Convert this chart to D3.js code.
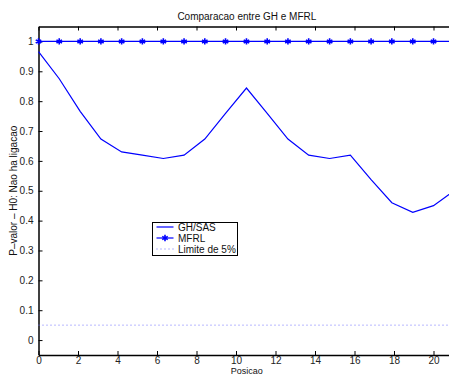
<!DOCTYPE html>
<html>
<head>
<meta charset="utf-8">
<script src="https://cdn.jsdelivr.net/npm/d3@7"></script>
<style>
html,body{margin:0;padding:0;background:#fff;}
svg{display:block;font-family:"Liberation Sans",Arial,Helvetica,sans-serif;}
</style>
</head>
<body>
<svg id="chart" width="449" height="376"></svg>
<script>
const positions = [0, 1.05, 2.11, 3.16, 4.21, 5.26, 6.32, 7.37, 8.42, 9.47, 10.53, 11.58, 12.63, 13.68, 14.74, 15.79, 16.84, 17.89, 18.95, 20, 21.05];
const ghSas = [0.966, 0.875, 0.766, 0.673, 0.630, 0.619, 0.608, 0.619, 0.673, 0.759, 0.844, 0.759, 0.673, 0.619, 0.608, 0.619, 0.537, 0.460, 0.428, 0.450, 0.500];
const mfrl = [1, 1, 1, 1, 1, 1, 1, 1, 1, 1, 1, 1, 1, 1, 1, 1, 1, 1, 1, 1, 1];
const limitValue = 0.05;
const xTicks = [0, 2, 4, 6, 8, 10, 12, 14, 16, 18, 20];
const yTicks = [0, 0.1, 0.2, 0.3, 0.4, 0.5, 0.6, 0.7, 0.8, 0.9, 1];
const seriesNames = ["GH/SAS", "MFRL", "Limite de 5%"];
const titleText = "Comparacao entre GH e MFRL";
const xLabelText = "Posicao";
const yLabelText = "P\u2013valor \u2013 H0: Nao ha ligacao";

(function () {
const svg = d3.select("#chart");
const mLeft = 38.5, mTop = 26.5, mBottom = 355;
const pxPerUnit = 19.75;
const xMax = 21.1;
const x = d3.scaleLinear().domain([0, xMax]).range([mLeft, mLeft + xMax * pxPerUnit]);
const y = d3.scaleLinear().domain([-0.05, 1.05]).range([mBottom, mTop]);
const mRight = x(xMax);

const blue = "#0000ff";
const fontSize = 10;

const axB = svg.append("g").attr("transform", `translate(0,${mBottom})`)
  .call(d3.axisBottom(x).tickValues(xTicks).tickSizeInner(-4).tickSizeOuter(0).tickPadding(1.5).tickFormat(d3.format("d")));
const axT = svg.append("g").attr("transform", `translate(0,${mTop})`)
  .call(d3.axisTop(x).tickValues(xTicks).tickSizeInner(-4).tickSizeOuter(0).tickFormat(""));
const axL = svg.append("g").attr("transform", `translate(${mLeft},0)`)
  .call(d3.axisLeft(y).tickValues(yTicks).tickSizeInner(-4).tickSizeOuter(0).tickPadding(5).tickFormat(d => d === 0 || d === 1 ? d3.format("d")(d) : d3.format(".1f")(d)));
[axB, axT, axL].forEach(g => {
  g.selectAll(".domain").attr("stroke", "#000").attr("stroke-width", 1.5);
  g.selectAll(".tick line").attr("stroke", "#000").attr("stroke-width", 1);
  g.selectAll(".tick text").attr("fill", "#222").style("font-size", fontSize + "px").style("font-family", "Liberation Sans, Arial, sans-serif");
});

svg.append("line")
  .attr("x1", x(0)).attr("x2", mRight)
  .attr("y1", y(limitValue)).attr("y2", y(limitValue))
  .attr("stroke", "#7070ff").attr("stroke-width", 1).attr("stroke-dasharray", "1,3");

const line = d3.line().x((d, i) => x(positions[i])).y(d => y(d));
svg.append("path").datum(ghSas)
  .attr("d", line).attr("fill", "none").attr("stroke", blue).attr("stroke-width", 1.2);

svg.append("path").datum(mfrl)
  .attr("d", line).attr("fill", "none").attr("stroke", blue).attr("stroke-width", 1.2);
const sym = d3.symbol().type(d3.symbolAsterisk).size(28);
svg.append("g").selectAll("path").data(mfrl).join("path")
  .attr("transform", (d, i) => `translate(${x(positions[i])},${y(d)})`)
  .attr("d", sym).attr("fill", "none").attr("stroke", blue).attr("stroke-width", 1.6);

svg.append("text").attr("x", (mLeft + mRight) / 2).attr("y", 20)
  .attr("text-anchor", "middle").style("font-size", fontSize + "px").attr("fill", "#111").text(titleText);
svg.append("text").attr("x", (mLeft + mRight) / 2).attr("y", 374)
  .attr("text-anchor", "middle").style("font-size", "9px").attr("fill", "#111").text(xLabelText);
svg.append("text").attr("transform", `translate(17,${(mTop + mBottom) / 2}) rotate(-90)`)
  .attr("text-anchor", "middle").style("font-size", fontSize + "px").attr("fill", "#111").text(yLabelText);

const lg = svg.append("g");
lg.append("rect").attr("x", 152.5).attr("y", 222.5).attr("width", 85).attr("height", 33)
  .attr("fill", "#fff").attr("stroke", "#000").attr("stroke-width", 1);
const rowsY = [227, 238, 249];
const styles = [
  {stroke: blue, dash: null, marker: false},
  {stroke: blue, dash: null, marker: true},
  {stroke: "#7070ff", dash: "1,3", marker: false}
];
seriesNames.forEach((name, i) => {
  const ly = rowsY[i];
  lg.append("line").attr("x1", 156.5).attr("x2", 173.5).attr("y1", ly).attr("y2", ly)
    .attr("stroke", styles[i].stroke).attr("stroke-width", 1.2).attr("stroke-dasharray", styles[i].dash);
  if (styles[i].marker) {
    lg.append("path").attr("transform", `translate(165,${ly})`).attr("d", sym)
      .attr("fill", "none").attr("stroke", blue).attr("stroke-width", 1.6);
  }
  lg.append("text").attr("x", 178).attr("y", ly).attr("dy", "0.35em")
    .style("font-size", fontSize + "px").attr("fill", "#111").text(name);
});
})();
</script>
</body>
</html>
